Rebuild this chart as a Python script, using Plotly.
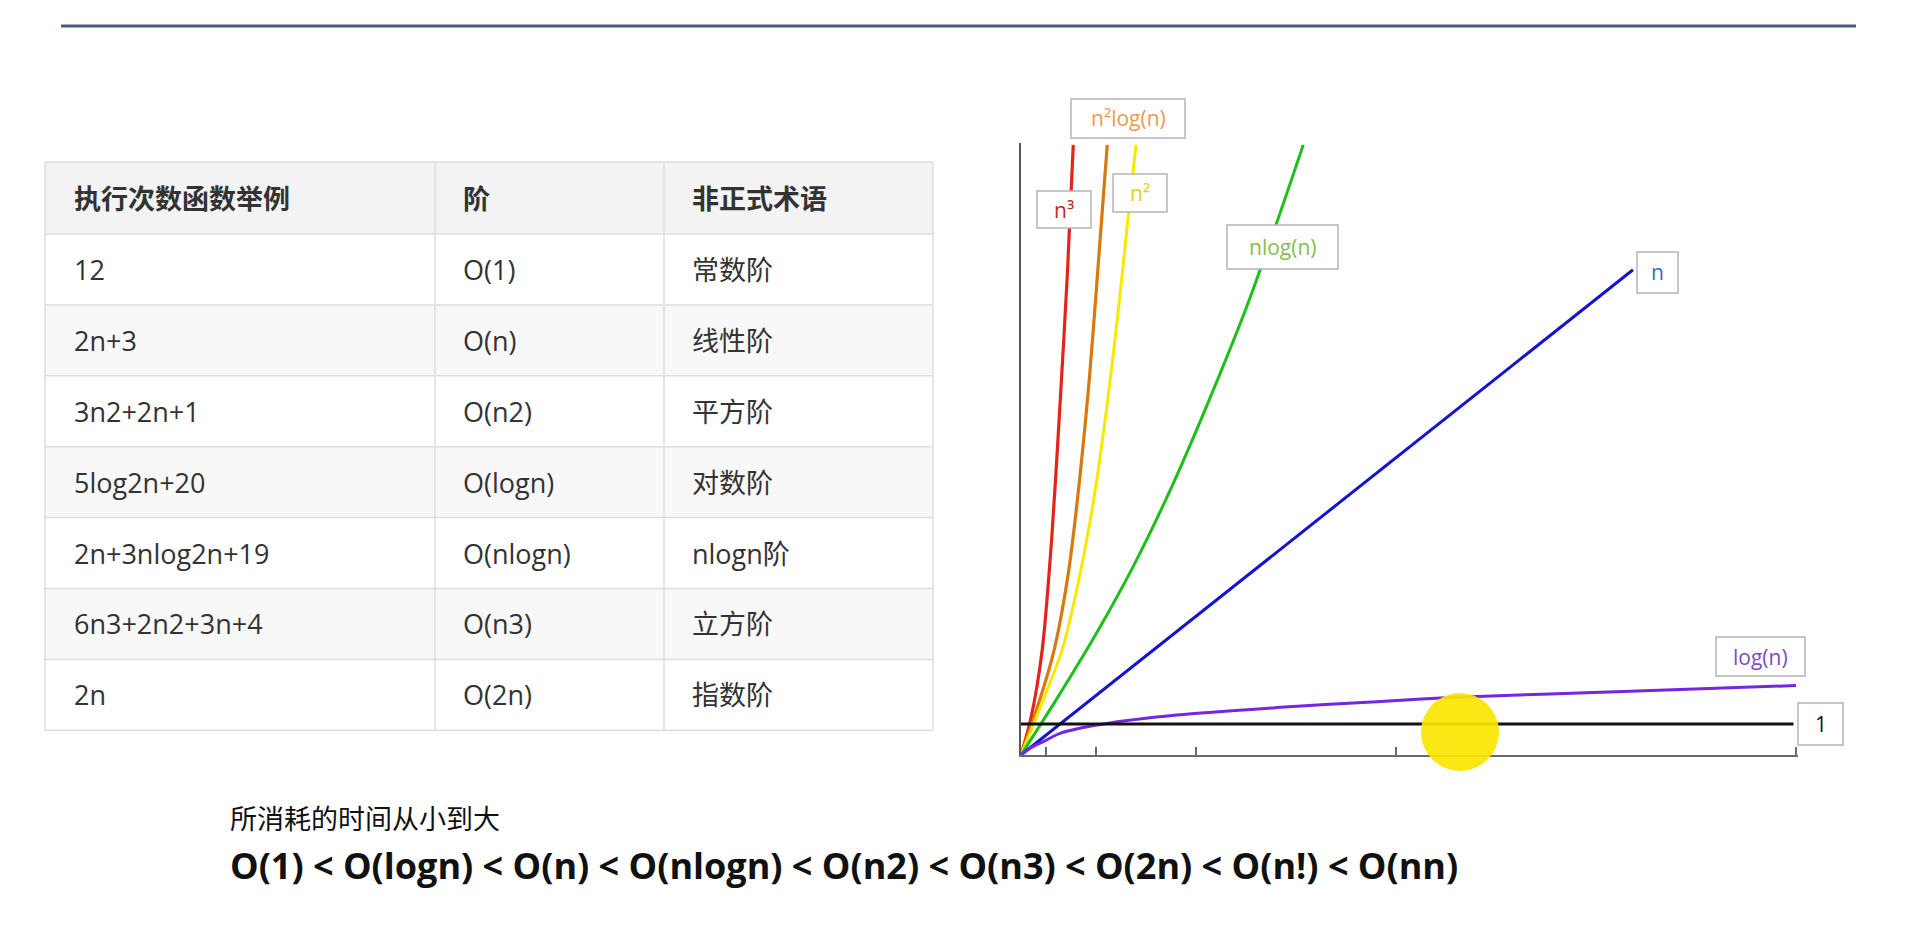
import plotly.graph_objects as go

W, H = 1912, 929

# ---------------- data ----------------
col_headers = ["执行次数函数举例", "阶", "非正式术语"]
examples = ["12", "2n+3", "3n2+2n+1", "5log2n+20", "2n+3nlog2n+19", "6n3+2n2+3n+4", "2n"]
orders = ["O(1)", "O(n)", "O(n2)", "O(logn)", "O(nlogn)", "O(n3)", "O(2n)"]
terms = ["常数阶", "线性阶", "平方阶", "对数阶", "nlogn阶", "立方阶", "指数阶"]

n3_x = [0, 0.4, 0.85, 1.23, 1.56, 1.86, 2.09]
n3_y = [0, 1.2, 3.4, 7.0, 11.3, 15.6, 19.68]

n2logn_x = [0, 0.6, 1.3, 1.9, 2.36, 2.72, 3.05, 3.45]
n2logn_y = [0, 1.4, 3.3, 5.9, 9.0, 12.0, 15.4, 19.68]

n2_x = [0, 0.8, 1.65, 2.3, 2.9, 3.43, 3.9, 4.28, 4.6]
n2_y = [0, 1.6, 3.4, 5.6, 8.2, 11.2, 14.4, 17.3, 19.68]

nlogn_x = [0, 1.5, 3.0, 4.5, 6.0, 7.5, 9.0, 10.2, 11.29]
nlogn_y = [0, 1.9, 3.9, 6.1, 8.6, 11.4, 14.4, 17.1, 19.68]

n_x = [0, 24.48]
n_y = [0, 15.65]

logn_x = [0, 0.36, 0.89, 1.56, 3.29, 6.23, 10.23, 14.23, 17.4, 23.8, 31.0]
logn_y = [0, 0.22, 0.43, 0.70, 1.0, 1.29, 1.53, 1.72, 1.86, 2.04, 2.24]

const_x = [-0.12, 30.9]
const_y = [1, 1]

x_ticks = [1, 3, 7, 15, 31]

curve_labels = ["n³", "n²log(n)", "n²", "nlog(n)", "n", "log(n)", "1"]

caption1 = "所消耗的时间从小到大"
caption2 = "O(1) < O(logn) < O(n) < O(nlogn) < O(n2) < O(n3) < O(2n) < O(n!) < O(nn)"

# ---------------- helpers ----------------
def px(x):
    return x / W

def py(y):
    return 1 - y / H

fig = go.Figure()

curves = [
    (n3_x, n3_y, "#e5231b", 3.2),
    (n2logn_x, n2logn_y, "#d9780e", 3.2),
    (n2_x, n2_y, "#f7ea00", 3),
    (nlogn_x, nlogn_y, "#1fbf1a", 3),
    (n_x, n_y, "#1414d0", 3),
    (logn_x, logn_y, "#7626e0", 3),
    (const_x, const_y, "#111111", 3),
]
for xs, ys, c, w in curves:
    fig.add_trace(go.Scatter(x=xs, y=ys, mode="lines", cliponaxis=False,
                             line=dict(color=c, width=w, shape="spline", smoothing=0.8),
                             hoverinfo="skip", showlegend=False))

shapes = []
annotations = []

# top rule
shapes.append(dict(type="line", xref="paper", yref="paper",
                   x0=px(61), x1=px(1856), y0=py(26), y1=py(26),
                   line=dict(color="#4a5c7c", width=3)))

# ---------------- table ----------------
tl, tr = 45, 933
col_b = [45, 435, 664, 933]
header_top, header_h, row_h = 162, 72, 70.9
row_tops = [header_top + header_h + i * row_h for i in range(len(examples))]
t_bottom = row_tops[-1] + row_h
grid = "#dedede"

shapes.append(dict(type="rect", xref="paper", yref="paper", layer="below",
                   x0=px(tl), x1=px(tr), y0=py(header_top), y1=py(header_top + header_h),
                   fillcolor="#f3f3f3", line=dict(width=0)))
for i, top in enumerate(row_tops):
    fill = "#f8f8f8" if i % 2 == 1 else "#ffffff"
    shapes.append(dict(type="rect", xref="paper", yref="paper", layer="below",
                       x0=px(tl), x1=px(tr), y0=py(top), y1=py(top + row_h),
                       fillcolor=fill, line=dict(width=0)))
for yv in [header_top, header_top + header_h] + [t + row_h for t in row_tops]:
    shapes.append(dict(type="line", xref="paper", yref="paper",
                       x0=px(tl), x1=px(tr), y0=py(yv), y1=py(yv),
                       line=dict(color=grid, width=1.5)))
for xv in col_b:
    shapes.append(dict(type="line", xref="paper", yref="paper",
                       x0=px(xv), x1=px(xv), y0=py(header_top), y1=py(t_bottom),
                       line=dict(color=grid, width=1.5)))

text_x = [72, 461, 690]
font_tab = "Open Sans, Noto Sans CJK SC, sans-serif"
for j, h in enumerate(col_headers):
    annotations.append(dict(xref="paper", yref="paper", x=px(text_x[j]),
                            y=py(header_top + header_h / 2), xanchor="left", yanchor="middle",
                            text="<b>" + h + "</b>", showarrow=False,
                            font=dict(family="Noto Sans CJK SC, sans-serif", size=27, color="#333333")))
for i in range(len(examples)):
    yc = py(row_tops[i] + row_h / 2)
    for j, val in enumerate([examples[i], orders[i], terms[i]]):
        annotations.append(dict(xref="paper", yref="paper", x=px(text_x[j]), y=yc,
                                xanchor="left", yanchor="middle", text=val, showarrow=False,
                                font=dict(family=font_tab, size=27, color="#333333")))

# ---------------- chart label boxes ----------------
boxes = [
    ((1037, 191, 1091, 228), "#c0282a"),
    ((1071, 99, 1185, 138), "#ec9a50"),
    ((1113, 174, 1167, 212), "#e2cf10"),
    ((1227, 225, 1338, 269), "#86bd4e"),
    ((1637, 252, 1678, 293), "#2f6fc4"),
    ((1716, 637, 1805, 676), "#7d4cc0"),
    ((1798, 703, 1843, 745), "#111111"),
]
for (lab, ((x0, y0, x1, y1), c)) in zip(curve_labels, boxes):
    shapes.append(dict(type="rect", xref="paper", yref="paper", layer="above",
                       x0=px(x0), x1=px(x1), y0=py(y0), y1=py(y1),
                       fillcolor="white", line=dict(color="#b4b4b4", width=1.5)))
    annotations.append(dict(xref="paper", yref="paper", x=px((x0 + x1) / 2), y=py((y0 + y1) / 2),
                            xanchor="center", yanchor="middle", text=lab, showarrow=False,
                            font=dict(family="Open Sans, sans-serif", size=21, color=c)))

# yellow highlight circle
shapes.append(dict(type="circle", xref="paper", yref="paper", layer="above",
                   x0=px(1421), x1=px(1499), y0=py(693), y1=py(771),
                   fillcolor="#fbe500", opacity=0.92, line=dict(width=0)))

# ---------------- captions ----------------
annotations.append(dict(xref="paper", yref="paper", x=px(228), y=py(817), xanchor="left",
                        yanchor="middle", text=caption1, showarrow=False,
                        font=dict(family="Noto Sans CJK SC, sans-serif", size=27, color="#111111")))
annotations.append(dict(xref="paper", yref="paper", x=px(228), y=py(865), xanchor="left",
                        yanchor="middle", text="<b>" + caption2 + "</b>", showarrow=False,
                        font=dict(family="Open Sans, sans-serif", size=36, color="#111111")))

fig.update_layout(
    width=W, height=H,
    margin=dict(l=0, r=0, t=0, b=0),
    paper_bgcolor="white", plot_bgcolor="white",
    shapes=shapes, annotations=annotations,
    xaxis=dict(domain=[px(1021), px(1798)], range=[0, 31.08], showgrid=False, zeroline=False,
               showline=True, linecolor="#6a6a6a", linewidth=2,
               ticks="inside", tickvals=x_ticks, ticklen=8, tickwidth=2, tickcolor="#6a6a6a",
               showticklabels=False, fixedrange=True),
    yaxis=dict(domain=[1 - 755 / H, 1 - 143 / H], range=[0, 19.74], showgrid=False, zeroline=False,
               showline=True, linecolor="#555555", linewidth=2, ticks="", showticklabels=False,
               fixedrange=True),
    showlegend=False,
)

fig.write_html("out.html")
